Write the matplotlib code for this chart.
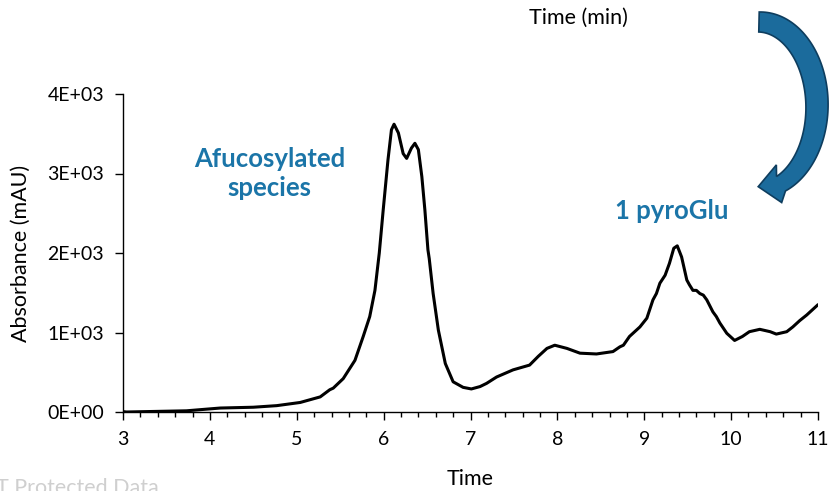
import numpy as np
import matplotlib
matplotlib.use("Agg")
import matplotlib.pyplot as plt
from matplotlib.patches import Polygon
from matplotlib.ticker import MultipleLocator, NullLocator

plt.rcParams["font.family"] = ["Lato", "DejaVu Sans"]

# chromatogram trace (time in min, absorbance in mAU)
time_min = [3.0, 3.04, 3.73, 4.12, 4.50, 4.77, 5.04, 5.27, 5.38, 5.42, 5.535, 5.67,
            5.765, 5.84, 5.90, 5.95, 5.995, 6.05, 6.09, 6.12, 6.17, 6.225, 6.265,
            6.32, 6.36, 6.40, 6.44, 6.475, 6.51, 6.525, 6.57, 6.63, 6.71, 6.80,
            6.915, 7.01, 7.11, 7.185, 7.30, 7.49, 7.68, 7.78, 7.88, 7.97, 8.11,
            8.26, 8.45, 8.64, 8.72, 8.76, 8.83, 8.87, 8.95, 9.03, 9.10, 9.14, 9.18,
            9.24, 9.29, 9.34, 9.38, 9.43, 9.49, 9.52, 9.56, 9.60, 9.64, 9.68, 9.72,
            9.79, 9.83, 9.87, 9.95, 9.97, 10.04, 10.13, 10.21, 10.33, 10.45,
            10.52, 10.64, 10.71, 10.79, 10.87, 10.94, 11.0]
absorb = [5, 0, 15, 50, 60, 80, 120, 190, 280, 300, 420, 650,
          950, 1200, 1530, 2000, 2540, 3170, 3550, 3620, 3510, 3250, 3190,
          3320, 3380, 3300, 2960, 2540, 2040, 1930, 1490, 1030, 610, 380,
          310, 290, 320, 360, 440, 530, 590, 700, 800, 840, 800,
          740, 730, 760, 820, 840, 950, 990, 1070, 1180, 1410, 1490, 1620,
          1720, 1870, 2060, 2090, 1950, 1660, 1600, 1530, 1530, 1490, 1470, 1410,
          1260, 1200, 1120, 990, 970, 900, 950, 1010, 1040, 1010,
          980, 1010, 1070, 1150, 1220, 1290, 1350]

x_ticks = [3, 4, 5, 6, 7, 8, 9, 10, 11]
y_ticks = [0, 1000, 2000, 3000, 4000]
y_tick_labels = ["0E+00", "1E+03", "2E+03", "3E+03", "4E+03"]

blue = "#1b75a8"
W, H = 831, 491

fig = plt.figure(figsize=(W / 100, H / 100), dpi=100)
ax = fig.add_axes([123 / W, 1 - 412 / H, (818 - 123) / W, (412 - 94) / H])

ax.plot(time_min, absorb, color="black", lw=2.2, solid_joinstyle="round",
        solid_capstyle="round")

ax.set_xlim(3, 11)
ax.set_ylim(0, 4000)
ax.set_xticks(x_ticks)
ax.xaxis.set_minor_locator(MultipleLocator(0.2))
ax.yaxis.set_minor_locator(NullLocator())
ax.set_yticks(y_ticks)
ax.set_yticklabels(y_tick_labels)
ax.tick_params(axis="both", which="major", labelsize=14, direction="out",
               length=5.5, width=1, pad=8, color="black")
ax.tick_params(axis="x", which="minor", direction="out", length=3.5, width=1,
               color="black")
for s in ["top", "right"]:
    ax.spines[s].set_visible(False)
for s in ["left", "bottom"]:
    ax.spines[s].set_linewidth(1)

ax.set_xlabel("Time", fontsize=15.5, labelpad=15)
ax.set_ylabel("Absorbance (mAU)", fontsize=15.5, labelpad=12)

fig.text(578 / W, 1 - 18 / H, "Time (min)", ha="center", va="center", fontsize=15.5)
fig.text(-4 / W, 1 - 488 / H, "T Protected Data", ha="left", va="center",
         fontsize=15.5, color="#cfcfcf")

ax.text(4.69, 3000, "Afucosylated\nspecies", ha="center", va="center",
        fontsize=18.5, fontweight="bold", color=blue, linespacing=1.25)
ax.text(9.32, 2528, "1 pyroGlu", ha="center", va="center", fontsize=18.5,
        fontweight="bold", color=blue)

# curved arrow at top right, built in pixel space along an elliptic arc
cx, cy, rx, ry = 759.0, 106.0, 58.0, 84.0
t = np.radians(np.linspace(90, -67.7, 90))
px = cx + rx * np.cos(t)
py = cy - ry * np.sin(t)
tx = np.gradient(px)
ty = np.gradient(py)
norm = np.hypot(tx, ty)
tx, ty = tx / norm, ty / norm
nx, ny = -ty, tx
half = 10 + 2 * np.sin(np.linspace(0, np.pi, len(t))) - np.linspace(0, 1.5, len(t))
inner = np.column_stack([px + nx * half, py + ny * half])
outer = np.column_stack([px - nx * half, py - ny * half])

# arrow head, bent to point almost straight left
hx, hy = px[-1] - 2, py[-1]
dx, dy = -0.99, 0.14
hnx, hny = -dy, dx
hw, hl = 19, 21
head = np.array([
    [hx + hnx * hw, hy + hny * hw],
    [hx + dx * hl, hy + dy * hl],
    [hx - hnx * hw, hy - hny * hw],
])
pts = np.vstack([inner, head, outer[::-1]])
pts_fig = np.column_stack([pts[:, 0] / W, 1 - pts[:, 1] / H])
arrow = Polygon(pts_fig, closed=True, transform=fig.transFigure,
                facecolor="#1b6b9c", edgecolor="#0e3d5e", lw=1.2,
                joinstyle="miter")
fig.patches.append(arrow)

fig.savefig("out.png", dpi=100)
